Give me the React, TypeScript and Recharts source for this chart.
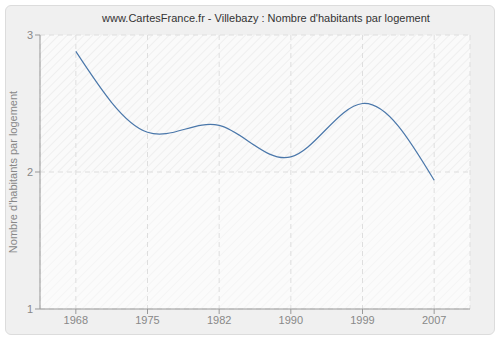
import { LineChart, Line, XAxis, YAxis, CartesianGrid } from 'recharts'

const years = ['1968', '1975', '1982', '1990', '1999', '2007']
const habitantsParLogement = [2.88, 2.29, 2.34, 2.11, 2.5, 1.94]
const yTicks = [1, 2, 3]

const data = years.map((year, i) => ({ year, value: habitantsParLogement[i] }))

const font = 'Liberation Sans, Arial, sans-serif'
const tickStyle = { fill: '#888', fontSize: 11, fontFamily: font }

export default function App() {
  return (
    <div style={{ position: 'absolute', left: 0, top: 0, width: 500, height: 340, background: '#fff' }}>
      <svg width={0} height={0} style={{ position: 'absolute' }}>
        <defs>
          <pattern id="hatchDark" width="6" height="6" patternUnits="userSpaceOnUse" patternTransform="rotate(45)">
            <rect width="6" height="6" fill="#fafafa" />
            <line x1="0" y1="0" x2="0" y2="6" stroke="#e9e9e9" strokeWidth="1.2" />
          </pattern>
          <pattern id="hatchLight" width="6" height="6" patternUnits="userSpaceOnUse" patternTransform="rotate(45)">
            <rect width="6" height="6" fill="#fbfbfb" />
            <line x1="0" y1="0" x2="0" y2="6" stroke="#f2f2f2" strokeWidth="1.2" />
          </pattern>
        </defs>
      </svg>
      <div
        style={{
          position: 'absolute',
          left: 5,
          top: 5,
          width: 488,
          height: 328,
          background: '#f0f0f0',
          border: '1px solid #dcdcdc',
          borderRadius: 6,
        }}
      />
      <div
        style={{
          position: 'absolute',
          left: 0,
          top: 12,
          width: 532,
          textAlign: 'center',
          fontSize: 11,
          color: '#333',
          fontFamily: font,
        }}
      >
        www.CartesFrance.fr - Villebazy : Nombre d'habitants par logement
      </div>
      <div style={{ position: 'absolute', left: 0, top: 0 }}>
        <LineChart width={500} height={340} data={data} margin={{ top: 35, right: 30, bottom: 6, left: 10 }}>
          <CartesianGrid
            stroke="#dedede"
            strokeDasharray="5 4"
            horizontalFill={['url(#hatchDark)', 'url(#hatchLight)']}
            fillOpacity={1}
          />
          <XAxis
            dataKey="year"
            scale="band"
            height={25}
            tick={tickStyle}
            tickLine={{ stroke: '#999' }}
            axisLine={{ stroke: '#999' }}
            tickSize={5}
            interval={0}
          />
          <YAxis
            domain={[1, 3]}
            ticks={yTicks}
            width={30}
            tick={tickStyle}
            tickLine={{ stroke: '#999' }}
            axisLine={{ stroke: '#999' }}
            tickSize={5}
            label={{
              value: "Nombre d'habitants par logement",
              angle: -90,
              position: 'insideLeft',
              offset: 3,
              style: { textAnchor: 'middle', fill: '#888', fontSize: 11, fontFamily: font },
            }}
          />
          <Line
            type="natural"
            dataKey="value"
            stroke="#4a77aa"
            strokeWidth={1.2}
            dot={false}
            isAnimationActive={false}
          />
        </LineChart>
      </div>
    </div>
  )
}
